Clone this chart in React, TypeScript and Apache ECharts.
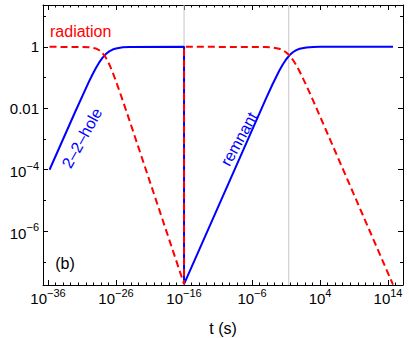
import React, { useEffect, useRef } from "react";
import * as echarts from "echarts";

const FONT = '"Liberation Sans", Arial, Helvetica, sans-serif';

// Data: log10(t / s) and log10(fraction)
const blueLogT = [-35.78, -32, -30, -29.5, -29, -28.5, -28, -27.5, -27, -26.5, -26, -25, -24, -16, -16, -4, -3, -2, -1.5, -1, -0.5, 0, 0.5, 1, 2, 3, 4, 14.73];
const blueLogY = [-4.0, -2.113, -1.143, -0.916, -0.705, -0.517, -0.359, -0.237, -0.148, -0.09, -0.053, -0.017, -0.005, 0, -7.72, -1.709, -1.227, -0.779, -0.582, -0.413, -0.277, -0.177, -0.108, -0.064, -0.021, -0.007, -0.002, 0];

const redLogT = [-35.78, -30, -29, -28.5, -28, -27.5, -27, -26.5, -26, -25, -24, -16, -16, -4, -3, -2, -1.5, -1, -0.5, 0, 0.5, 1, 2, 3, 4, 14.73];
const redLogY = [0, -0.012, -0.053, -0.106, -0.201, -0.353, -0.566, -0.829, -1.123, -1.757, -2.411, -7.72, 0, -0.006, -0.021, -0.063, -0.108, -0.178, -0.282, -0.423, -0.598, -0.802, -1.263, -1.757, -2.263, -7.74];

// epochs marked with gray vertical lines (log10 t)
const epochLogT = [-16, -0.6];

// ticks
const xMajor = [-36, -26, -16, -6, 4, 14];
const yMajor = [-6, -4, -2, 0];
const yMinor = [-7, -5, -3, -1, 1];

const X_MIN = -36.74;
const X_MAX = 16.2;
const Y_MIN = -7.75;
const Y_MAX = 1.36;

const xMinor: number[] = [];
for (let k = 0; k < 60; k++) {
  const v = -36 + (k * 10) / 9;
  if (v > X_MAX) break;
  if (k % 9 !== 0) xMinor.push(v);
}

const rich = {
  b: { fontSize: 15, fontFamily: FONT, color: "#000", lineHeight: 19, verticalAlign: "bottom" },
  s: { fontSize: 11, fontFamily: FONT, color: "#000", verticalAlign: "top" },
  p: { fontSize: 15, fontFamily: FONT, color: "#000", lineHeight: 19, verticalAlign: "middle" },
};

const powLabel = (v: number) => {
  const r = Math.round(v);
  if (r === 0) return "{p|1}";
  if (r === -2) return "{p|0.01}";
  return `{b|10}{s|${r < 0 ? "\u2212" + Math.abs(r) : r}}`;
};

const frameLine = { show: true, onZero: false, lineStyle: { color: "#000", width: 1 } };
const noLine = { show: false, onZero: false };

export default function App() {
  const ref = useRef<HTMLDivElement>(null);
  useEffect(() => {
    document.body.style.margin = "0";
    if (!ref.current) return;
    const chart = echarts.init(ref.current, null, { renderer: "svg" });

    const mkX = (pos: "bottom" | "top", values: number[], len: number, labels: boolean, line: boolean, name?: string) => ({
      type: "value",
      position: pos,
      min: X_MIN,
      max: X_MAX,
      axisLine: line ? frameLine : noLine,
      splitLine: { show: false },
      axisTick: { show: true, inside: true, length: len, customValues: values, lineStyle: { color: "#000", width: 1 } },
      axisLabel: labels
        ? { show: true, customValues: values, formatter: powLabel, rich, margin: 2 }
        : { show: false },
      name: name,
      nameLocation: "middle",
      nameGap: 35,
      nameTextStyle: { fontSize: 16, fontFamily: FONT, color: "#000" },
    });
    const mkY = (pos: "left" | "right", values: number[], len: number, labels: boolean, line: boolean) => ({
      type: "value",
      position: pos,
      min: Y_MIN,
      max: Y_MAX,
      axisLine: line ? frameLine : noLine,
      splitLine: { show: false },
      axisTick: { show: true, inside: true, length: len, customValues: values, lineStyle: { color: "#000", width: 1 } },
      axisLabel: labels
        ? { show: true, customValues: values, formatter: powLabel, rich, margin: 4 }
        : { show: false },
    });

    const zip = (a: number[], b: number[]) => a.map((x, i) => [x, b[i]]);

    const graySeries = epochLogT.map((t) => ({
      type: "line",
      data: [[t, Y_MIN], [t, Y_MAX]],
      symbol: "none",
      silent: true,
      z: 1,
      lineStyle: { color: "#c6c6c6", width: 1 },
    }));

    chart.setOption({
      animation: false,
      grid: { left: 43, right: 6, top: 5, bottom: 53, outerBoundsMode: "none", containLabel: false },
      xAxis: [
        mkX("bottom", xMajor, 5, true, true, "t (s)"),
        mkX("bottom", xMinor, 2.5, false, false),
        mkX("top", xMajor, 5, false, true),
        mkX("top", xMinor, 2.5, false, false),
      ],
      yAxis: [
        mkY("left", yMajor, 5, true, true),
        mkY("left", yMinor, 3, false, false),
        mkY("right", yMajor, 5, false, true),
        mkY("right", yMinor, 3, false, false),
      ],
      series: [
        ...graySeries,
        {
          type: "line",
          name: "blue",
          data: zip(blueLogT, blueLogY),
          symbol: "none",
          z: 3,
          lineStyle: { color: "#0000ff", width: 2 },
        },
        {
          type: "line",
          name: "radiation",
          data: zip(redLogT, redLogY),
          symbol: "none",
          z: 4,
          lineStyle: { color: "#ff0000", width: 2, type: [7, 4] },
        },
      ],
      graphic: [
        {
          type: "text",
          x: 50,
          y: 31,
          style: { text: "radiation", fill: "#ff0000", fontSize: 16, fontFamily: FONT, align: "left", verticalAlign: "middle" },
        },
        {
          type: "text",
          x: 82,
          y: 138,
          rotation: (61 * Math.PI) / 180,
          style: { text: "2\u20132\u2013hole", fill: "#0000ff", fontSize: 16, fontFamily: FONT, align: "center", verticalAlign: "middle" },
        },
        {
          type: "text",
          x: 239,
          y: 139,
          rotation: (61 * Math.PI) / 180,
          style: { text: "remnant", fill: "#0000ff", fontSize: 16, fontFamily: FONT, align: "center", verticalAlign: "middle" },
        },
        {
          type: "text",
          x: 65,
          y: 263,
          style: { text: "(b)", fill: "#000", fontSize: 16, fontFamily: FONT, align: "center", verticalAlign: "middle" },
        },
      ],
    });
    return () => chart.dispose();
  }, []);
  return <div ref={ref} style={{ width: 409, height: 338 }} />;
}
